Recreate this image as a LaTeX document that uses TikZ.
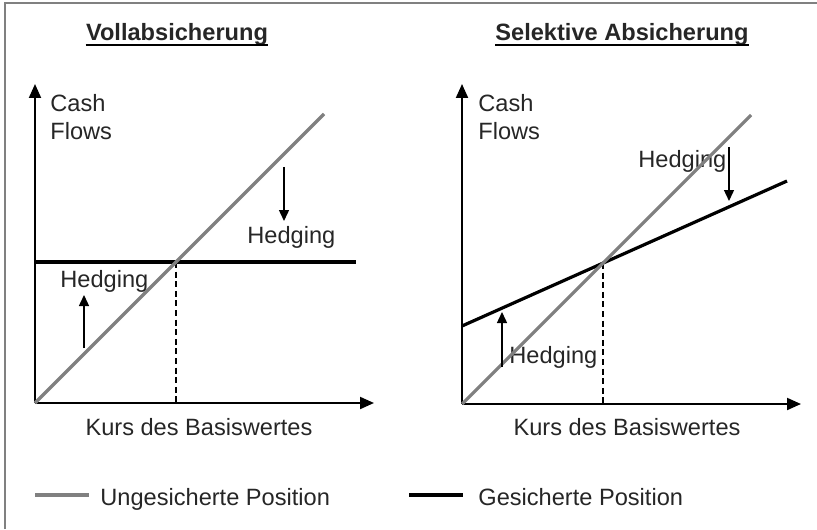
\documentclass[tikz,border=0pt]{standalone}
\usepackage{fontspec}
\setmainfont{Liberation Sans}
\usetikzlibrary{arrows.meta}

\begin{document}
\begin{tikzpicture}[
  x=0.5pt,y=-0.5pt,
  every node/.style={inner sep=0pt,font=\fontsize{11.8}{14}\selectfont,text=black!85},
  axis/.style={line width=1pt,-{Triangle[length=7pt,width=6pt]}},
  unhedged/.style={line width=1.6pt,gray},
  hedged/.style={line width=1.6pt,black},
  hedgearrow/.style={line width=0.7pt,-{Triangle[length=5.5pt,width=5pt]}},
  guide/.style={line width=1pt,dash pattern=on 3pt off 1.8pt},
  title/.style={font=\fontsize{11.8}{14}\selectfont\bfseries,anchor=base}
]
  \useasboundingbox (0,0) rectangle (817,529);
  \draw[gray,line width=1pt] (5,529) -- (5,3) -- (817,3);

  % Vollabsicherung
  \node[title] (tVoll) at (177,41) {Vollabsicherung};
  \draw[line width=1pt] ([yshift=-1.8pt]tVoll.base west) -- ([yshift=-1.8pt]tVoll.base east);
  \coordinate (o1) at (35,403);
  \coordinate (y1) at (35,84);
  \coordinate (x1) at (374,403);
  \coordinate (u1) at (324,114);
  \coordinate (g1a) at (35,262);
  \coordinate (g1b) at (356,262);
  \coordinate (m1) at (176,262);
  \coordinate (m1x) at (176,403);
  \coordinate (d1a) at (284,167);
  \coordinate (d1b) at (284,221);
  \coordinate (r1a) at (84,348);
  \coordinate (r1b) at (84,295);
  \node[anchor=base west,align=left] (cf1) at (50,140) {Cash\\Flows};
  \node[anchor=base] (kurs1) at (199,435) {Kurs des Basiswertes};
  \node[anchor=base west] (hd1a) at (247,243) {Hedging};
  \node[anchor=base west] (hd1b) at (60,287) {Hedging};

  \draw[guide] (m1) -- (m1x);
  \draw[axis] (o1) -- (y1);
  \draw[axis] (o1) -- (x1);
  \draw[hedged] (g1a) -- (g1b);
  \draw[unhedged] (o1) -- (u1);
  \draw[hedgearrow] (d1a) -- (d1b);
  \draw[hedgearrow] (r1a) -- (r1b);

  % Selektive Absicherung
  \node[title] (tSel) at (622,41) {Selektive Absicherung};
  \draw[line width=1pt] ([yshift=-1.8pt]tSel.base west) -- ([yshift=-1.8pt]tSel.base east);
  \coordinate (o2) at (462,404);
  \coordinate (y2) at (462,84);
  \coordinate (x2) at (801,404);
  \coordinate (u2) at (751,115);
  \coordinate (g2a) at (462,326);
  \coordinate (g2b) at (787,181);
  \coordinate (m2) at (603,263);
  \coordinate (m2x) at (603,404);
  \coordinate (d2a) at (729,147);
  \coordinate (d2b) at (729,201);
  \coordinate (r2a) at (502,367);
  \coordinate (r2b) at (502,312);
  \node[anchor=base west,align=left] (cf2) at (478,140) {Cash\\Flows};
  \node[anchor=base] (kurs2) at (627,435) {Kurs des Basiswertes};
  \node[anchor=base west] (hd2a) at (638,168) {Hedging};
  \node[anchor=base west] (hd2b) at (509,363) {Hedging};

  \draw[guide] (m2) -- (m2x);
  \draw[axis] (o2) -- (y2);
  \draw[axis] (o2) -- (x2);
  \draw[hedged] (g2a) -- (g2b);
  \draw[unhedged] (o2) -- (u2);
  \draw[hedgearrow] (d2a) -- (d2b);
  \draw[hedgearrow] (r2a) -- (r2b);

  % Legende
  \coordinate (l1a) at (35,495);
  \coordinate (l1b) at (89,495);
  \coordinate (l2a) at (409,495);
  \coordinate (l2b) at (463,495);
  \draw[unhedged] (l1a) -- (l1b);
  \draw[hedged] (l2a) -- (l2b);
  \node[anchor=base west] (leg1) at (100,505) {Ungesicherte Position};
  \node[anchor=base west] (leg2) at (478,505) {Gesicherte Position};
\end{tikzpicture}
\end{document}
